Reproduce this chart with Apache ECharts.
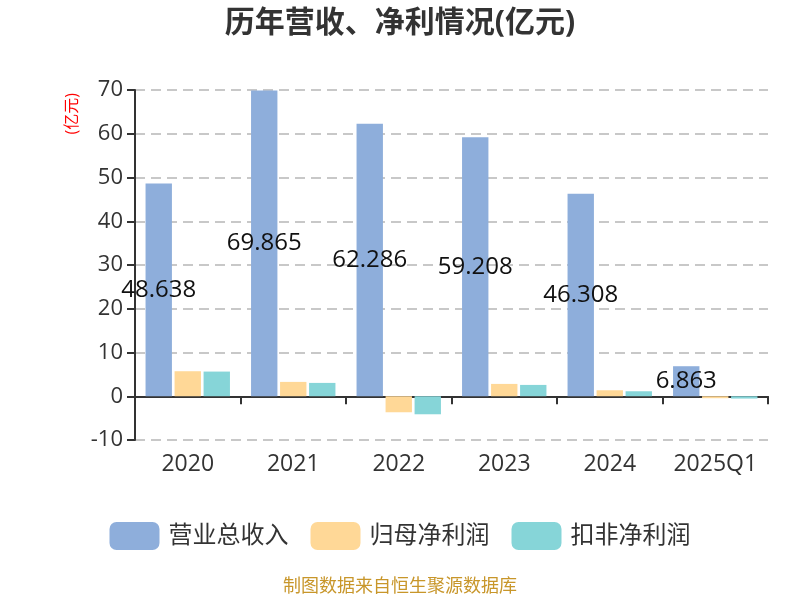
<!DOCTYPE html>
<html><head><meta charset="utf-8">
<script src="https://cdn.jsdelivr.net/npm/echarts@6/dist/echarts.min.js"></script>
<style>html,body{margin:0;padding:0;background:#fff}#c{width:800px;height:600px}</style>
</head><body><div id="c"></div>
<script>
var categories = ['2020','2021','2022','2023','2024','2025Q1'];
var revenue = [48.638, 69.865, 62.286, 59.208, 46.308, 6.863];
var netProfit = [5.72, 3.28, -3.66, 2.82, 1.37, -0.45];
var deductedProfit = [5.64, 3.05, -4.12, 2.59, 1.14, -0.53];
var seriesNames = ['营业总收入','归母净利润','扣非净利润'];
var yTicks = {min: -10, max: 70, interval: 10};

var chart = echarts.init(document.getElementById('c'));
var font = '"Open Sans","Noto Sans CJK SC",sans-serif';
chart.setOption({
  animation: false,
  textStyle: {fontFamily: font},
  title: {text: '历年营收、净利情况(亿元)', left: 'center', top: 3,
    textStyle: {fontSize: 30, fontWeight: 'bold', color: '#333', fontFamily: font}},
  legend: {bottom: 45, itemWidth: 50, itemHeight: 28, itemGap: 22, icon: 'roundRect',
    textStyle: {fontSize: 24, color: '#333', fontFamily: font, padding: [0, 0, 0, 4]}, data: seriesNames},
  grid: {left: 135, right: 32, top: 90, bottom: 160},
  xAxis: {type: 'category', data: categories,
    axisLine: {onZero: true, lineStyle: {color: '#333', width: 2}},
    axisTick: {show: true, interval: 0, lineStyle: {color: '#333', width: 2}, length: 8},
    axisLabel: {interval: 0, fontSize: 23, color: '#333', margin: 13}},
  yAxis: {type: 'value', min: yTicks.min, max: yTicks.max, interval: yTicks.interval,
    axisLine: {show: true, lineStyle: {color: '#333', width: 2}},
    axisTick: {show: true, length: 8, lineStyle: {color: '#333', width: 2}},
    axisLabel: {fontSize: 22, color: '#333', margin: 12},
    splitLine: {lineStyle: {type: [10, 6], color: '#c8c8c8', width: 2}}},
  graphic: [
    {type: 'text', left: 64, top: 93, rotation: Math.PI/2, originX: 0, originY: 0,
      style: {text: '(亿元)', fill: '#ff0000', fontSize: 16, fontFamily: font}},
    {type: 'text', left: 'center', top: 578,
      style: {text: '制图数据来自恒生聚源数据库', fill: '#c8962a', fontSize: 18, fontFamily: font}}
  ],
  series: [
    {name: seriesNames[0], type: 'bar', data: revenue, barGap: '10%', barCategoryGap: '20%',
      itemStyle: {color: '#8eaedb'},
      label: {show: true, position: 'inside', fontSize: 24, color: '#111', fontFamily: font}},
    {name: seriesNames[1], type: 'bar', data: netProfit, barGap: '10%', barCategoryGap: '20%',
      itemStyle: {color: '#ffd897'}},
    {name: seriesNames[2], type: 'bar', data: deductedProfit, barGap: '10%', barCategoryGap: '20%',
      itemStyle: {color: '#86d5d8'}}
  ]
});
</script></body></html>
